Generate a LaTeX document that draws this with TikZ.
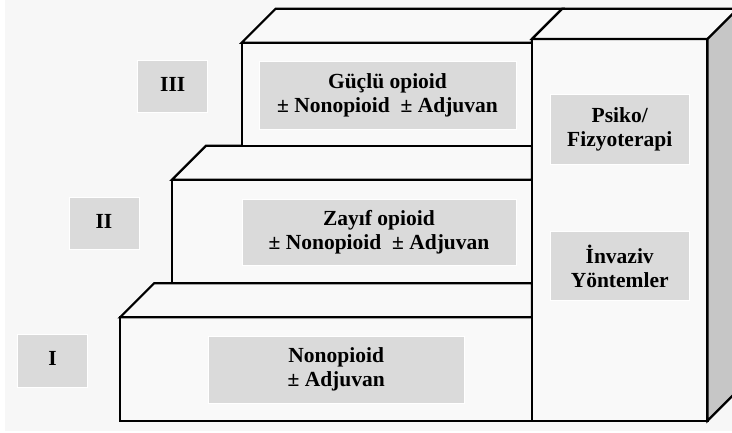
\documentclass[tikz,border=0pt]{standalone}
\usepackage{fontspec}
\setmainfont{Liberation Serif}
\definecolor{pagebg}{HTML}{F7F7F7}
\definecolor{facebg}{HTML}{F9F9F9}
\definecolor{sidegray}{HTML}{C6C6C6}
\definecolor{labelgray}{HTML}{DADADA}

\begin{document}
\begin{tikzpicture}[x=1pt,y=-1pt,
  face/.style={draw=black, line width=2.2pt, fill=facebg},
  side/.style={draw=black, line width=2.2pt, fill=sidegray},
  lbl/.style={fill=labelgray, draw=white, line width=0.6pt, inner sep=0pt,
    align=center, text=black, font=\bfseries\fontsize{21.5}{24}\selectfont},
  stepno/.style={lbl, minimum width=70pt, minimum height=52.7pt},
]
\useasboundingbox (0,0) rectangle (732,432);
\clip (0,0) rectangle (732,432);
\fill[white] (0,0) rectangle (732,432);
\fill[pagebg] (5,0) rectangle (732,431);

% step I
\filldraw[face] (120,317.3) rectangle (532,420.7);
\filldraw[face] (120,317.3) -- (154,283.3) -- (532,283.3) -- (532,317.3) -- cycle;
% step II
\filldraw[face] (172,179.7) rectangle (532,283.3);
\filldraw[face] (172,179.7) -- (206,145.7) -- (532,145.7) -- (532,179.7) -- cycle;
% step III
\filldraw[face] (241.7,42.7) rectangle (532,145.7);
\filldraw[face] (241.7,42.7) -- (275.7,8.7) -- (562.3,8.7) -- (532,39) -- (532,42.7) -- cycle;

% tall box on the right
\filldraw[face] (532,39) rectangle (707.5,420.7);
\filldraw[face] (532,39) -- (562.3,8.7) -- (745,8.7) -- (707.5,39) -- cycle;
\filldraw[side] (707.5,39) -- (737.8,8.7) -- (745,8.7) -- (745,390.4) -- (737.8,390.4) -- (707.5,420.7) -- cycle;

% step numbers
\node[stepno] (n3) at (172.7,86.3) {\raisebox{4pt}{III}};
\node[stepno] (n2) at (104,223.3) {\raisebox{4pt}{II}};
\node[stepno] (n1) at (52.5,360.7) {\raisebox{4pt}{I}};

% treatment labels
\node[lbl, minimum width=257pt, minimum height=68pt] (t3) at (387.5,95)
  {Güçlü opioid\\± Nonopioid\ \ ± Adjuvan};
\node[lbl, minimum width=274pt, minimum height=66.7pt] (t2) at (379,232.3)
  {Zayıf opioid\\± Nonopioid\ \ ± Adjuvan};
\node[lbl, minimum width=256pt, minimum height=67.3pt] (t1) at (336.2,369.7)
  {Nonopioid\\± Adjuvan};
\node[lbl, minimum width=139.3pt, minimum height=69.7pt] (tp) at (619.7,129.2)
  {Psiko/\\Fizyoterapi};
\node[lbl, minimum width=139.3pt, minimum height=68.3pt] (ti) at (619.7,265.9)
  {İnvaziv\\Yöntemler};
\end{tikzpicture}
\end{document}
